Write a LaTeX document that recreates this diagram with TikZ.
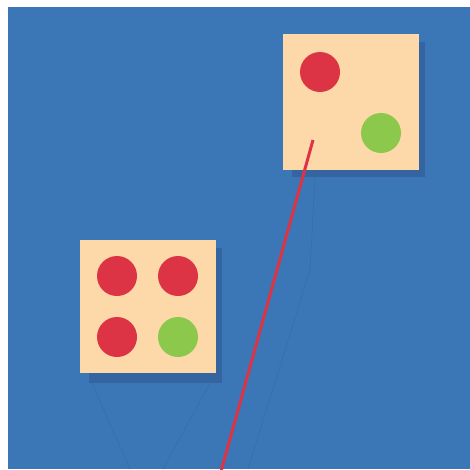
\documentclass[tikz,border=0pt]{standalone}
\definecolor{bgblue}{HTML}{3B77B6}
\definecolor{shadowblue}{HTML}{3465A0}
\definecolor{faintblue}{HTML}{3670AE}
\definecolor{peach}{HTML}{FDD9AA}
\definecolor{dotred}{HTML}{DC3445}
\definecolor{dotgreen}{HTML}{8CC84B}
\tikzset{
  card/.style={fill=peach, draw=none, minimum size=136pt, inner sep=0pt, anchor=north west},
  cardshadow/.style={fill=shadowblue, draw=none},
  dot/.style={circle, minimum size=40pt, inner sep=0pt, draw=none},
  reddot/.style={dot, fill=dotred},
  greendot/.style={dot, fill=dotgreen},
  faint/.style={draw=faintblue, line width=0.8pt},
  redline/.style={draw=dotred, line width=3pt}
}
\begin{document}
\begin{tikzpicture}[x=1pt,y=-1pt]
\useasboundingbox (0,0) rectangle (470,469);
\fill[white] (0,0) rectangle (470,469);
\fill[bgblue] (8,7) rectangle (470,469);
\begin{scope}
\clip (8,7) rectangle (470,469);
% faint guide lines
\coordinate (f1a) at (92,383); \coordinate (f1b) at (130,469);
\coordinate (f2a) at (210,383); \coordinate (f2b) at (163,469);
\coordinate (f3a) at (315,177); \coordinate (f3m) at (310,270); \coordinate (f3b) at (248,469);
\draw[faint] (f1a) -- (f1b);
\draw[faint] (f2a) -- (f2b);
\draw[faint] (f3a) -- (f3m) -- (f3b);
% shadows
\fill[cardshadow] (292,42) rectangle (425,177);
\fill[cardshadow] (89,248) rectangle (222,383);
% cards
\node[card] (top) at (283,34) {};
\node[card, minimum width=136pt, minimum height=133pt] (bot) at (80,240) {};
% dots
\node[reddot] (t1) at (320,72) {};
\node[greendot] (t2) at (381,133) {};
\node[reddot] (b1) at (117,276) {};
\node[reddot] (b2) at (178,276) {};
\node[reddot] (b3) at (117,337) {};
\node[greendot] (b4) at (178,337) {};
% red line
\coordinate (rs) at (313,140);
\coordinate (re) at (220,475);
\draw[redline] (rs) -- (re);
\end{scope}
\end{tikzpicture}
\end{document}
